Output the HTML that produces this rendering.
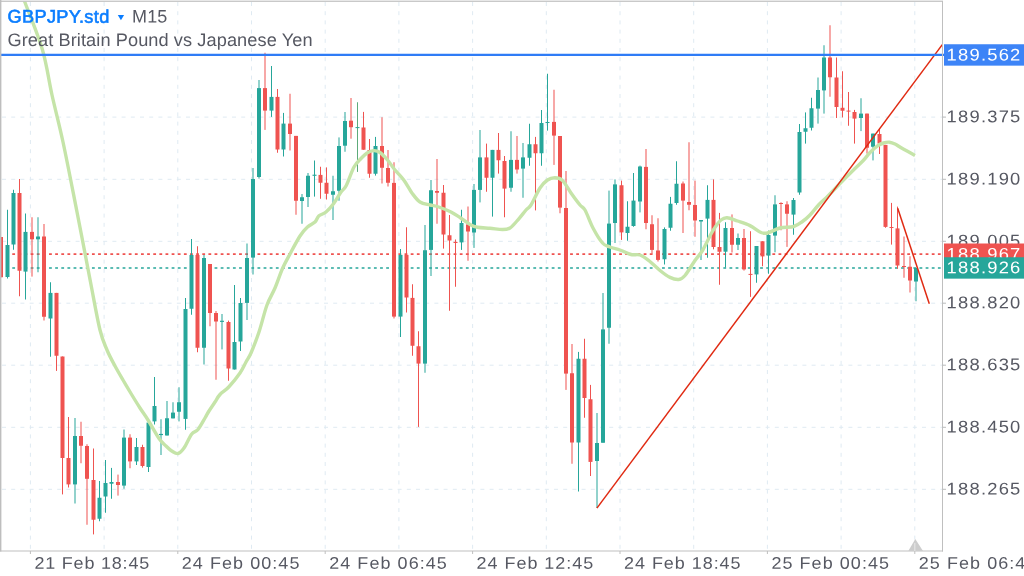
<!DOCTYPE html>
<html lang="en"><head><meta charset="utf-8"><title>GBPJPY.std M15</title>
<style>html,body{margin:0;padding:0;background:#fff;overflow:hidden}body{width:1024px;height:576px;position:relative;font-family:"Liberation Sans",sans-serif}svg{display:block;position:absolute;left:0;top:0}text{font-family:"Liberation Sans",sans-serif}</style></head><body>
<svg width="1024" height="576" viewBox="0 0 1024 576">
<rect width="1024" height="576" fill="#fff"/>
<g stroke="#dfeaf2" stroke-width="1" stroke-dasharray="4 5.2" fill="none">
<path d="M30.4 2V551"/>
<path d="M104.1 2V551"/>
<path d="M177.8 2V551"/>
<path d="M251.5 2V551"/>
<path d="M325.2 2V551"/>
<path d="M398.9 2V551"/>
<path d="M472.6 2V551"/>
<path d="M546.3 2V551"/>
<path d="M620.0 2V551"/>
<path d="M693.7 2V551"/>
<path d="M767.4 2V551"/>
<path d="M841.1 2V551"/>
<path d="M914.8 2V551"/>
<path d="M2 117.1H946"/>
<path d="M2 179.3H946"/>
<path d="M2 241.3H946"/>
<path d="M2 303.2H946"/>
<path d="M2 365.2H946"/>
<path d="M2 427.3H946"/>
<path d="M2 489.3H946"/>
</g>
<path d="M0 254.1H942" stroke="#ef5350" stroke-width="1.6" stroke-dasharray="2.8 3.33" fill="none"/>
<path d="M0 268H942" stroke="#26a69a" stroke-width="1.6" stroke-dasharray="2.8 3.33" fill="none"/>
<g>
<rect x="0.50" y="237.00" width="1" height="40.25" fill="#ef5350"/>
<rect x="-1.00" y="237.00" width="4" height="40.25" fill="#ef5350"/>
<rect x="7.00" y="209.75" width="1" height="68.75" fill="#26a69a"/>
<rect x="5.50" y="245.00" width="4" height="32.00" fill="#26a69a"/>
<rect x="13.00" y="189.75" width="1" height="60.00" fill="#26a69a"/>
<rect x="11.50" y="193.00" width="4" height="51.50" fill="#26a69a"/>
<rect x="19.00" y="179.00" width="1" height="117.25" fill="#ef5350"/>
<rect x="17.50" y="193.00" width="4" height="77.75" fill="#ef5350"/>
<rect x="25.00" y="213.50" width="1" height="86.00" fill="#26a69a"/>
<rect x="23.50" y="231.90" width="4" height="39.70" fill="#26a69a"/>
<rect x="31.50" y="217.25" width="1" height="59.35" fill="#ef5350"/>
<rect x="30.00" y="231.90" width="4" height="7.40" fill="#ef5350"/>
<rect x="37.50" y="217.25" width="1" height="55.00" fill="#26a69a"/>
<rect x="36.00" y="236.50" width="4" height="2.80" fill="#26a69a"/>
<rect x="43.50" y="224.00" width="1" height="96.50" fill="#ef5350"/>
<rect x="42.00" y="236.50" width="4" height="80.25" fill="#ef5350"/>
<rect x="50.00" y="282.25" width="1" height="74.50" fill="#26a69a"/>
<rect x="48.50" y="292.90" width="4" height="25.60" fill="#26a69a"/>
<rect x="56.00" y="292.90" width="1" height="78.00" fill="#ef5350"/>
<rect x="54.50" y="292.90" width="4" height="62.85" fill="#ef5350"/>
<rect x="62.00" y="356.50" width="1" height="137.90" fill="#ef5350"/>
<rect x="60.50" y="356.50" width="4" height="101.50" fill="#ef5350"/>
<rect x="68.00" y="417.00" width="1" height="70.50" fill="#ef5350"/>
<rect x="66.50" y="458.00" width="4" height="26.40" fill="#ef5350"/>
<rect x="74.50" y="418.00" width="1" height="85.50" fill="#26a69a"/>
<rect x="73.00" y="436.00" width="4" height="48.40" fill="#26a69a"/>
<rect x="80.50" y="421.75" width="1" height="41.50" fill="#ef5350"/>
<rect x="79.00" y="436.00" width="4" height="9.75" fill="#ef5350"/>
<rect x="86.50" y="444.25" width="1" height="80.50" fill="#ef5350"/>
<rect x="85.00" y="446.00" width="4" height="32.80" fill="#ef5350"/>
<rect x="93.00" y="448.50" width="1" height="85.90" fill="#ef5350"/>
<rect x="91.50" y="480.00" width="4" height="39.75" fill="#ef5350"/>
<rect x="99.00" y="481.00" width="1" height="40.25" fill="#26a69a"/>
<rect x="97.50" y="497.75" width="4" height="21.00" fill="#26a69a"/>
<rect x="105.00" y="460.00" width="1" height="52.75" fill="#26a69a"/>
<rect x="103.50" y="483.00" width="4" height="13.50" fill="#26a69a"/>
<rect x="111.00" y="467.90" width="1" height="30.85" fill="#26a69a"/>
<rect x="109.50" y="482.00" width="4" height="1.75" fill="#26a69a"/>
<rect x="117.50" y="474.60" width="1" height="21.00" fill="#ef5350"/>
<rect x="116.00" y="482.00" width="4" height="3.00" fill="#ef5350"/>
<rect x="123.50" y="429.50" width="1" height="59.25" fill="#26a69a"/>
<rect x="122.00" y="437.60" width="4" height="48.00" fill="#26a69a"/>
<rect x="129.50" y="434.25" width="1" height="34.00" fill="#ef5350"/>
<rect x="128.00" y="437.60" width="4" height="23.80" fill="#ef5350"/>
<rect x="136.00" y="438.00" width="1" height="27.00" fill="#26a69a"/>
<rect x="134.50" y="447.00" width="4" height="14.40" fill="#26a69a"/>
<rect x="142.00" y="444.75" width="1" height="22.85" fill="#ef5350"/>
<rect x="140.50" y="447.00" width="4" height="19.00" fill="#ef5350"/>
<rect x="148.00" y="419.25" width="1" height="52.75" fill="#26a69a"/>
<rect x="146.50" y="422.60" width="4" height="44.40" fill="#26a69a"/>
<rect x="154.00" y="377.00" width="1" height="47.50" fill="#26a69a"/>
<rect x="152.50" y="406.00" width="4" height="15.40" fill="#26a69a"/>
<rect x="160.50" y="419.25" width="1" height="35.75" fill="#26a69a"/>
<rect x="159.00" y="433.90" width="4" height="1.20" fill="#26a69a"/>
<rect x="166.50" y="401.00" width="1" height="34.50" fill="#26a69a"/>
<rect x="165.00" y="418.25" width="4" height="17.25" fill="#26a69a"/>
<rect x="172.50" y="402.25" width="1" height="16.15" fill="#26a69a"/>
<rect x="171.00" y="412.60" width="4" height="5.80" fill="#26a69a"/>
<rect x="178.50" y="387.25" width="1" height="34.15" fill="#26a69a"/>
<rect x="177.00" y="402.25" width="4" height="9.50" fill="#26a69a"/>
<rect x="185.00" y="298.00" width="1" height="131.75" fill="#26a69a"/>
<rect x="183.50" y="309.00" width="4" height="109.90" fill="#26a69a"/>
<rect x="191.00" y="239.00" width="1" height="75.75" fill="#26a69a"/>
<rect x="189.50" y="255.00" width="4" height="53.75" fill="#26a69a"/>
<rect x="197.00" y="246.25" width="1" height="106.00" fill="#ef5350"/>
<rect x="195.50" y="255.00" width="4" height="92.75" fill="#ef5350"/>
<rect x="203.50" y="255.00" width="1" height="109.50" fill="#26a69a"/>
<rect x="202.00" y="258.00" width="4" height="89.75" fill="#26a69a"/>
<rect x="209.50" y="264.00" width="1" height="62.25" fill="#ef5350"/>
<rect x="208.00" y="264.00" width="4" height="49.00" fill="#ef5350"/>
<rect x="215.50" y="311.00" width="1" height="68.75" fill="#ef5350"/>
<rect x="214.00" y="313.00" width="4" height="8.50" fill="#ef5350"/>
<rect x="221.50" y="314.00" width="1" height="35.40" fill="#26a69a"/>
<rect x="220.00" y="320.75" width="4" height="1.15" fill="#26a69a"/>
<rect x="228.00" y="320.60" width="1" height="60.15" fill="#ef5350"/>
<rect x="226.50" y="322.00" width="4" height="46.50" fill="#ef5350"/>
<rect x="234.00" y="285.00" width="1" height="84.50" fill="#26a69a"/>
<rect x="232.50" y="342.00" width="4" height="27.50" fill="#26a69a"/>
<rect x="240.00" y="298.00" width="1" height="53.00" fill="#26a69a"/>
<rect x="238.50" y="303.00" width="4" height="38.50" fill="#26a69a"/>
<rect x="246.50" y="243.50" width="1" height="76.50" fill="#26a69a"/>
<rect x="245.00" y="258.00" width="4" height="44.90" fill="#26a69a"/>
<rect x="252.50" y="168.00" width="1" height="106.50" fill="#26a69a"/>
<rect x="251.00" y="179.00" width="4" height="78.60" fill="#26a69a"/>
<rect x="258.50" y="80.00" width="1" height="98.60" fill="#26a69a"/>
<rect x="257.00" y="88.10" width="4" height="88.90" fill="#26a69a"/>
<rect x="264.50" y="52.75" width="1" height="77.15" fill="#ef5350"/>
<rect x="263.00" y="88.10" width="4" height="22.50" fill="#ef5350"/>
<rect x="271.00" y="66.00" width="1" height="50.90" fill="#26a69a"/>
<rect x="269.50" y="96.90" width="4" height="13.70" fill="#26a69a"/>
<rect x="277.00" y="89.00" width="1" height="63.75" fill="#ef5350"/>
<rect x="275.50" y="96.90" width="4" height="52.60" fill="#ef5350"/>
<rect x="283.00" y="112.90" width="1" height="43.60" fill="#26a69a"/>
<rect x="281.50" y="123.60" width="4" height="25.90" fill="#26a69a"/>
<rect x="289.50" y="93.75" width="1" height="56.75" fill="#ef5350"/>
<rect x="288.00" y="123.60" width="4" height="10.40" fill="#ef5350"/>
<rect x="295.50" y="135.90" width="1" height="78.85" fill="#ef5350"/>
<rect x="294.00" y="135.90" width="4" height="64.85" fill="#ef5350"/>
<rect x="301.50" y="194.00" width="1" height="29.75" fill="#26a69a"/>
<rect x="300.00" y="197.25" width="4" height="3.75" fill="#26a69a"/>
<rect x="307.50" y="173.00" width="1" height="34.00" fill="#26a69a"/>
<rect x="306.00" y="175.75" width="4" height="21.25" fill="#26a69a"/>
<rect x="314.00" y="160.50" width="1" height="36.10" fill="#26a69a"/>
<rect x="312.50" y="174.70" width="4" height="1.10" fill="#26a69a"/>
<rect x="320.00" y="166.75" width="1" height="32.00" fill="#ef5350"/>
<rect x="318.50" y="174.90" width="4" height="7.85" fill="#ef5350"/>
<rect x="326.00" y="167.40" width="1" height="32.10" fill="#ef5350"/>
<rect x="324.50" y="182.75" width="4" height="11.00" fill="#ef5350"/>
<rect x="332.50" y="175.75" width="1" height="44.25" fill="#26a69a"/>
<rect x="331.00" y="191.25" width="4" height="3.50" fill="#26a69a"/>
<rect x="338.50" y="137.40" width="1" height="63.35" fill="#26a69a"/>
<rect x="337.00" y="146.00" width="4" height="44.75" fill="#26a69a"/>
<rect x="344.50" y="112.00" width="1" height="39.75" fill="#26a69a"/>
<rect x="343.00" y="121.00" width="4" height="24.70" fill="#26a69a"/>
<rect x="350.50" y="98.00" width="1" height="40.70" fill="#ef5350"/>
<rect x="349.00" y="120.70" width="4" height="6.50" fill="#ef5350"/>
<rect x="357.00" y="102.25" width="1" height="69.65" fill="#5dab7a"/>
<rect x="355.50" y="127.10" width="4" height="1.00" fill="#26a69a"/>
<rect x="363.00" y="111.90" width="1" height="37.85" fill="#ef5350"/>
<rect x="361.50" y="127.50" width="4" height="22.25" fill="#ef5350"/>
<rect x="369.00" y="139.00" width="1" height="38.75" fill="#ef5350"/>
<rect x="367.50" y="150.00" width="4" height="23.75" fill="#ef5350"/>
<rect x="375.00" y="136.90" width="1" height="38.70" fill="#26a69a"/>
<rect x="373.50" y="146.00" width="4" height="27.75" fill="#26a69a"/>
<rect x="381.50" y="117.25" width="1" height="66.25" fill="#ef5350"/>
<rect x="380.00" y="146.00" width="4" height="21.75" fill="#ef5350"/>
<rect x="387.50" y="150.00" width="1" height="36.50" fill="#ef5350"/>
<rect x="386.00" y="168.00" width="4" height="14.75" fill="#ef5350"/>
<rect x="393.50" y="162.25" width="1" height="156.25" fill="#ef5350"/>
<rect x="392.00" y="182.90" width="4" height="133.70" fill="#ef5350"/>
<rect x="400.00" y="249.00" width="1" height="88.00" fill="#26a69a"/>
<rect x="398.50" y="254.90" width="4" height="61.70" fill="#26a69a"/>
<rect x="406.00" y="227.25" width="1" height="85.25" fill="#ef5350"/>
<rect x="404.50" y="254.90" width="4" height="42.60" fill="#ef5350"/>
<rect x="412.00" y="284.25" width="1" height="71.50" fill="#ef5350"/>
<rect x="410.50" y="297.90" width="4" height="47.85" fill="#ef5350"/>
<rect x="418.00" y="331.25" width="1" height="95.65" fill="#ef5350"/>
<rect x="416.50" y="346.25" width="4" height="17.35" fill="#ef5350"/>
<rect x="424.50" y="225.00" width="1" height="147.75" fill="#26a69a"/>
<rect x="423.00" y="250.25" width="4" height="113.35" fill="#26a69a"/>
<rect x="430.50" y="180.00" width="1" height="96.00" fill="#26a69a"/>
<rect x="429.00" y="190.25" width="4" height="59.65" fill="#26a69a"/>
<rect x="436.50" y="159.00" width="1" height="64.75" fill="#ef5350"/>
<rect x="435.00" y="191.00" width="4" height="1.75" fill="#ef5350"/>
<rect x="443.00" y="185.00" width="1" height="63.60" fill="#ef5350"/>
<rect x="441.50" y="192.75" width="4" height="41.75" fill="#ef5350"/>
<rect x="449.00" y="215.00" width="1" height="95.75" fill="#ef5350"/>
<rect x="447.50" y="235.25" width="4" height="5.25" fill="#ef5350"/>
<rect x="455.00" y="239.50" width="1" height="47.25" fill="#ef5350"/>
<rect x="453.50" y="241.90" width="4" height="1.10" fill="#ef5350"/>
<rect x="461.00" y="209.75" width="1" height="40.15" fill="#26a69a"/>
<rect x="459.50" y="223.00" width="4" height="19.40" fill="#26a69a"/>
<rect x="467.50" y="206.50" width="1" height="54.25" fill="#ef5350"/>
<rect x="466.00" y="224.40" width="4" height="7.10" fill="#ef5350"/>
<rect x="473.50" y="184.00" width="1" height="63.90" fill="#26a69a"/>
<rect x="472.00" y="189.90" width="4" height="42.60" fill="#26a69a"/>
<rect x="479.50" y="130.00" width="1" height="72.40" fill="#26a69a"/>
<rect x="478.00" y="157.40" width="4" height="32.50" fill="#26a69a"/>
<rect x="486.00" y="143.60" width="1" height="48.15" fill="#ef5350"/>
<rect x="484.50" y="157.40" width="4" height="20.35" fill="#ef5350"/>
<rect x="492.00" y="149.90" width="1" height="66.70" fill="#26a69a"/>
<rect x="490.50" y="149.90" width="4" height="27.85" fill="#26a69a"/>
<rect x="498.00" y="133.00" width="1" height="40.60" fill="#ef5350"/>
<rect x="496.50" y="149.90" width="4" height="10.35" fill="#ef5350"/>
<rect x="504.00" y="156.00" width="1" height="61.25" fill="#ef5350"/>
<rect x="502.50" y="161.00" width="4" height="27.60" fill="#ef5350"/>
<rect x="510.50" y="131.25" width="1" height="60.50" fill="#26a69a"/>
<rect x="509.00" y="159.90" width="4" height="27.85" fill="#26a69a"/>
<rect x="516.50" y="136.00" width="1" height="37.60" fill="#ef5350"/>
<rect x="515.00" y="159.90" width="4" height="9.60" fill="#ef5350"/>
<rect x="522.50" y="143.00" width="1" height="54.75" fill="#26a69a"/>
<rect x="521.00" y="157.40" width="4" height="11.20" fill="#26a69a"/>
<rect x="529.00" y="123.75" width="1" height="42.00" fill="#26a69a"/>
<rect x="527.50" y="144.25" width="4" height="13.50" fill="#26a69a"/>
<rect x="535.00" y="136.90" width="1" height="73.50" fill="#ef5350"/>
<rect x="533.50" y="144.25" width="4" height="9.00" fill="#ef5350"/>
<rect x="541.00" y="110.00" width="1" height="55.75" fill="#26a69a"/>
<rect x="539.50" y="123.00" width="4" height="30.25" fill="#26a69a"/>
<rect x="547.00" y="73.75" width="1" height="56.85" fill="#26a69a"/>
<rect x="545.50" y="122.00" width="4" height="1.00" fill="#26a69a"/>
<rect x="553.50" y="89.75" width="1" height="75.15" fill="#ef5350"/>
<rect x="552.00" y="121.90" width="4" height="13.70" fill="#ef5350"/>
<rect x="559.50" y="136.00" width="1" height="77.25" fill="#ef5350"/>
<rect x="558.00" y="136.00" width="4" height="71.60" fill="#ef5350"/>
<rect x="565.50" y="171.00" width="1" height="218.90" fill="#ef5350"/>
<rect x="564.00" y="208.00" width="4" height="165.60" fill="#ef5350"/>
<rect x="571.50" y="344.00" width="1" height="119.75" fill="#ef5350"/>
<rect x="570.00" y="373.25" width="4" height="69.25" fill="#ef5350"/>
<rect x="578.00" y="351.90" width="1" height="139.60" fill="#26a69a"/>
<rect x="576.50" y="358.75" width="4" height="83.75" fill="#26a69a"/>
<rect x="584.00" y="338.75" width="1" height="79.00" fill="#ef5350"/>
<rect x="582.50" y="358.75" width="4" height="39.25" fill="#ef5350"/>
<rect x="590.00" y="384.90" width="1" height="91.10" fill="#ef5350"/>
<rect x="588.50" y="399.25" width="4" height="62.65" fill="#ef5350"/>
<rect x="596.50" y="413.00" width="1" height="95.00" fill="#26a69a"/>
<rect x="595.00" y="443.00" width="4" height="18.00" fill="#26a69a"/>
<rect x="602.50" y="293.00" width="1" height="149.75" fill="#26a69a"/>
<rect x="601.00" y="329.40" width="4" height="113.35" fill="#26a69a"/>
<rect x="608.50" y="190.60" width="1" height="153.15" fill="#26a69a"/>
<rect x="607.00" y="223.60" width="4" height="104.15" fill="#26a69a"/>
<rect x="614.50" y="179.40" width="1" height="63.60" fill="#26a69a"/>
<rect x="613.00" y="184.40" width="4" height="38.60" fill="#26a69a"/>
<rect x="621.00" y="180.60" width="1" height="59.30" fill="#ef5350"/>
<rect x="619.50" y="185.25" width="4" height="47.15" fill="#ef5350"/>
<rect x="627.00" y="201.25" width="1" height="39.50" fill="#26a69a"/>
<rect x="625.50" y="226.75" width="4" height="6.25" fill="#26a69a"/>
<rect x="633.00" y="173.00" width="1" height="53.75" fill="#26a69a"/>
<rect x="631.50" y="200.60" width="4" height="25.40" fill="#26a69a"/>
<rect x="639.50" y="165.60" width="1" height="46.80" fill="#26a69a"/>
<rect x="638.00" y="166.50" width="4" height="35.00" fill="#26a69a"/>
<rect x="645.50" y="149.00" width="1" height="80.25" fill="#ef5350"/>
<rect x="644.00" y="166.90" width="4" height="56.10" fill="#ef5350"/>
<rect x="651.50" y="215.25" width="1" height="38.35" fill="#ef5350"/>
<rect x="650.00" y="224.25" width="4" height="25.65" fill="#ef5350"/>
<rect x="657.50" y="218.25" width="1" height="43.25" fill="#ef5350"/>
<rect x="656.00" y="250.50" width="4" height="9.40" fill="#ef5350"/>
<rect x="664.00" y="227.40" width="1" height="37.10" fill="#26a69a"/>
<rect x="662.50" y="229.00" width="4" height="30.25" fill="#26a69a"/>
<rect x="670.00" y="196.90" width="1" height="33.85" fill="#26a69a"/>
<rect x="668.50" y="203.75" width="4" height="24.00" fill="#26a69a"/>
<rect x="676.00" y="161.25" width="1" height="43.50" fill="#26a69a"/>
<rect x="674.50" y="183.75" width="4" height="19.25" fill="#26a69a"/>
<rect x="682.50" y="181.50" width="1" height="51.50" fill="#ef5350"/>
<rect x="681.00" y="183.50" width="4" height="17.10" fill="#ef5350"/>
<rect x="688.50" y="142.25" width="1" height="68.00" fill="#ef5350"/>
<rect x="687.00" y="202.00" width="4" height="2.75" fill="#ef5350"/>
<rect x="694.50" y="180.60" width="1" height="56.15" fill="#ef5350"/>
<rect x="693.00" y="205.00" width="4" height="15.50" fill="#ef5350"/>
<rect x="700.50" y="220.00" width="1" height="40.00" fill="#26a69a"/>
<rect x="699.00" y="220.00" width="4" height="1.50" fill="#26a69a"/>
<rect x="707.00" y="185.25" width="1" height="72.50" fill="#26a69a"/>
<rect x="705.50" y="199.90" width="4" height="18.70" fill="#26a69a"/>
<rect x="713.00" y="179.40" width="1" height="69.90" fill="#ef5350"/>
<rect x="711.50" y="199.90" width="4" height="47.10" fill="#ef5350"/>
<rect x="719.00" y="212.90" width="1" height="71.85" fill="#ef5350"/>
<rect x="717.50" y="247.00" width="4" height="4.75" fill="#ef5350"/>
<rect x="725.00" y="222.25" width="1" height="45.25" fill="#26a69a"/>
<rect x="723.50" y="228.00" width="4" height="23.70" fill="#26a69a"/>
<rect x="731.50" y="214.40" width="1" height="38.10" fill="#ef5350"/>
<rect x="730.00" y="228.00" width="4" height="16.75" fill="#ef5350"/>
<rect x="737.50" y="233.50" width="1" height="16.50" fill="#26a69a"/>
<rect x="736.00" y="238.00" width="4" height="6.75" fill="#26a69a"/>
<rect x="743.50" y="229.00" width="1" height="41.60" fill="#ef5350"/>
<rect x="742.00" y="238.00" width="4" height="31.40" fill="#ef5350"/>
<rect x="750.00" y="231.25" width="1" height="65.65" fill="#ef5350"/>
<rect x="748.50" y="273.90" width="4" height="1.00" fill="#ef5350"/>
<rect x="756.00" y="246.00" width="1" height="36.75" fill="#26a69a"/>
<rect x="754.50" y="246.00" width="4" height="28.40" fill="#26a69a"/>
<rect x="762.00" y="241.25" width="1" height="25.00" fill="#ef5350"/>
<rect x="760.50" y="241.25" width="4" height="15.15" fill="#ef5350"/>
<rect x="768.00" y="230.60" width="1" height="43.15" fill="#26a69a"/>
<rect x="766.50" y="235.00" width="4" height="20.60" fill="#26a69a"/>
<rect x="774.50" y="195.25" width="1" height="57.00" fill="#26a69a"/>
<rect x="773.00" y="204.40" width="4" height="31.20" fill="#26a69a"/>
<rect x="780.50" y="202.25" width="1" height="28.00" fill="#ef5350"/>
<rect x="779.00" y="203.00" width="4" height="1.00" fill="#ef5350"/>
<rect x="786.50" y="201.25" width="1" height="45.65" fill="#ef5350"/>
<rect x="785.00" y="204.40" width="4" height="9.35" fill="#ef5350"/>
<rect x="793.00" y="198.00" width="1" height="36.75" fill="#26a69a"/>
<rect x="791.50" y="200.00" width="4" height="14.60" fill="#26a69a"/>
<rect x="799.00" y="124.00" width="1" height="70.75" fill="#26a69a"/>
<rect x="797.50" y="132.00" width="4" height="60.50" fill="#26a69a"/>
<rect x="805.00" y="112.40" width="1" height="31.20" fill="#26a69a"/>
<rect x="803.50" y="128.25" width="4" height="3.50" fill="#26a69a"/>
<rect x="811.00" y="97.75" width="1" height="32.75" fill="#26a69a"/>
<rect x="809.50" y="108.25" width="4" height="19.50" fill="#26a69a"/>
<rect x="817.50" y="77.50" width="1" height="46.10" fill="#26a69a"/>
<rect x="816.00" y="90.00" width="4" height="18.60" fill="#26a69a"/>
<rect x="823.50" y="45.25" width="1" height="68.35" fill="#26a69a"/>
<rect x="822.00" y="57.50" width="4" height="32.90" fill="#26a69a"/>
<rect x="829.50" y="25.25" width="1" height="71.50" fill="#ef5350"/>
<rect x="828.00" y="57.50" width="4" height="19.75" fill="#ef5350"/>
<rect x="836.00" y="57.50" width="1" height="60.50" fill="#ef5350"/>
<rect x="834.50" y="77.50" width="4" height="29.50" fill="#ef5350"/>
<rect x="842.00" y="71.25" width="1" height="46.15" fill="#ef5350"/>
<rect x="840.50" y="107.75" width="4" height="3.00" fill="#ef5350"/>
<rect x="848.00" y="92.00" width="1" height="33.75" fill="#ef5350"/>
<rect x="846.50" y="110.60" width="4" height="1.00" fill="#ef5350"/>
<rect x="854.00" y="109.90" width="1" height="33.70" fill="#ef5350"/>
<rect x="852.50" y="112.00" width="4" height="6.60" fill="#ef5350"/>
<rect x="860.50" y="98.25" width="1" height="32.85" fill="#26a69a"/>
<rect x="859.00" y="113.60" width="4" height="4.40" fill="#26a69a"/>
<rect x="866.50" y="113.60" width="1" height="40.00" fill="#ef5350"/>
<rect x="865.00" y="113.60" width="4" height="34.15" fill="#ef5350"/>
<rect x="872.50" y="133.60" width="1" height="26.80" fill="#26a69a"/>
<rect x="871.00" y="133.60" width="4" height="13.15" fill="#26a69a"/>
<rect x="879.00" y="128.00" width="1" height="26.00" fill="#ef5350"/>
<rect x="877.50" y="134.00" width="4" height="9.60" fill="#ef5350"/>
<rect x="885.00" y="144.90" width="1" height="82.85" fill="#ef5350"/>
<rect x="883.50" y="144.90" width="4" height="82.00" fill="#ef5350"/>
<rect x="891.00" y="202.90" width="1" height="41.70" fill="#ef5350"/>
<rect x="889.50" y="227.00" width="4" height="1.00" fill="#ef5350"/>
<rect x="897.00" y="206.60" width="1" height="62.15" fill="#ef5350"/>
<rect x="895.50" y="228.40" width="4" height="37.10" fill="#ef5350"/>
<rect x="903.50" y="236.50" width="1" height="41.25" fill="#ef5350"/>
<rect x="902.00" y="266.00" width="4" height="1.00" fill="#ef5350"/>
<rect x="909.50" y="256.25" width="1" height="36.25" fill="#ef5350"/>
<rect x="908.00" y="266.75" width="4" height="13.75" fill="#ef5350"/>
<rect x="915.50" y="268.00" width="1" height="33.25" fill="#26a69a"/>
<rect x="914.00" y="268.00" width="4" height="13.50" fill="#26a69a"/>
</g>
<path d="M24 0C24.2 0.4 21.9 -5.8 25 2.5C28.1 10.8 38.0 34.6 42.5 50C47.0 65.4 48.6 79.7 52 95C55.4 110.3 58.8 122.5 63 142C67.2 161.5 72.4 188.7 77 212C81.6 235.3 86.7 262.3 90.5 282C94.3 301.7 97.2 318.7 100 330C102.8 341.3 104.5 344.0 107 350C109.5 356.0 112.3 361.0 115 366C117.7 371.0 120.3 375.4 123 380C125.7 384.6 128.2 388.8 131 393.5C133.8 398.2 137.2 403.6 140 408C142.8 412.4 144.8 414.9 148 420C151.2 425.1 156.0 434.2 159 438.5C162.0 442.8 163.9 443.9 166 446C168.1 448.1 169.8 449.8 171.75 451C173.8 452.2 176.0 454.0 178 453.5C180.0 453.0 181.7 451.2 184 448C186.3 444.8 189.4 437.1 191.75 434C194.1 430.9 195.8 432.2 198 429.5C200.2 426.8 203.2 421.1 205 418C206.8 414.9 207.3 413.7 209 411C210.7 408.3 213.2 404.8 215 402C216.8 399.2 217.7 397.0 220 394.5C222.3 392.0 225.4 390.6 228.75 387C232.1 383.4 237.1 377.2 240 373C242.9 368.8 244.2 365.3 246 362C247.8 358.7 248.8 358.0 251 353C253.2 348.0 256.3 340.0 259 332C261.7 324.0 264.3 312.3 267 305C269.7 297.7 272.4 294.1 275 288C277.6 281.9 280.0 274.2 282.5 268.5C285.0 262.8 287.1 259.4 290 254C292.9 248.6 297.1 240.5 300 236C302.9 231.5 305.0 229.3 307.5 227C310.0 224.7 313.1 223.8 315 222C316.9 220.2 316.9 217.7 318.75 216C320.6 214.3 323.5 214.1 326 212C328.5 209.9 331.2 206.8 333.75 203.5C336.2 200.2 339.0 194.9 341 192C343.0 189.1 343.8 190.2 346 186C348.2 181.8 351.5 171.6 354 167C356.5 162.4 358.8 160.8 361 158.5C363.2 156.2 364.9 154.3 367 153C369.1 151.7 371.6 150.7 373.75 150.6C375.9 150.5 377.7 150.9 380 152.5C382.3 154.1 385.0 157.1 387.5 160C390.0 162.9 392.3 166.7 395 170C397.7 173.3 400.8 176.0 403.75 180C406.7 184.0 409.8 190.1 412.5 193.75C415.2 197.4 417.1 200.1 420 202C422.9 203.9 426.9 204.2 430 205C433.1 205.8 435.2 205.8 438.75 207C442.2 208.2 447.5 210.2 451 212C454.5 213.8 456.8 215.4 460 217.5C463.2 219.6 467.1 222.8 470 224.4C472.9 226.0 474.2 226.6 477.5 227.25C480.8 227.9 485.8 227.9 490 228.25C494.2 228.6 499.2 229.5 502.5 229.5C505.8 229.5 507.5 229.5 510 228C512.5 226.5 514.8 223.4 517.5 220.4C520.2 217.4 523.8 212.6 526 210C528.2 207.4 528.7 208.7 531 205C533.3 201.3 537.2 192.2 540 188C542.8 183.8 545.0 181.7 547.5 180C550.0 178.3 552.5 177.7 555 177.75C557.5 177.8 559.8 178.0 562.5 180.5C565.2 183.0 568.1 188.9 571 193C573.9 197.1 577.7 202.2 580 205C582.3 207.8 582.8 206.2 585 210C587.2 213.8 590.1 222.5 593 228C595.9 233.5 599.7 239.8 602.5 243C605.3 246.2 607.1 245.8 610 247C612.9 248.2 616.5 248.8 620 250C623.5 251.2 627.7 253.7 631 254.5C634.3 255.3 637.0 254.0 640 255C643.0 256.0 645.4 257.9 648.75 260.5C652.1 263.1 656.5 267.7 660 270.5C663.5 273.3 666.9 275.9 670 277.4C673.1 278.9 676.2 279.8 678.75 279.5C681.2 279.2 682.3 278.7 685 275.5C687.7 272.3 692.1 264.7 695 260.5C697.9 256.3 699.8 254.9 702.5 250.5C705.2 246.1 708.8 238.1 711 234C713.2 229.9 714.3 228.3 716 226C717.7 223.7 719.2 221.4 721 220C722.8 218.6 724.2 217.6 727 217.75C729.8 217.9 733.7 219.7 737.5 221C741.3 222.3 746.1 223.7 750 225.6C753.9 227.5 758.1 231.3 761 232.5C763.9 233.7 764.3 233.8 767.5 233C770.7 232.2 775.6 229.1 780 228C784.4 226.9 790.0 227.6 793.75 226.5C797.5 225.4 799.8 223.4 802.5 221.5C805.2 219.6 807.3 217.8 810 215C812.7 212.2 815.8 207.9 818.75 204.75C821.8 201.6 824.5 199.5 828 196C831.5 192.5 835.5 188.1 840 183.5C844.5 178.9 851.0 172.4 855 168.5C859.0 164.6 861.2 162.7 863.75 160C866.2 157.3 867.7 154.9 870 152.5C872.3 150.1 875.2 147.4 877.5 145.8C879.8 144.2 881.5 143.6 883.5 143C885.5 142.4 887.5 142.0 889.4 142.2C891.3 142.4 892.9 143.0 895 144C897.1 145.0 898.7 146.4 902 148.3C905.3 150.2 912.8 154.3 915 155.5" fill="none" stroke="#c5e4a8" stroke-width="3.4" stroke-linejoin="round" stroke-linecap="butt"/>
<path d="M596.9 508.1L942.3 44.6" stroke="#e02a12" stroke-width="1.5" fill="none"/>
<path d="M897.7 208.3L929.3 303.8" stroke="#e02a12" stroke-width="1.5" fill="none"/>
<path d="M0 54.85H944" stroke="#2f7cf6" stroke-width="2.2" fill="none"/>
<rect x="0" y="0" width="943" height="1" fill="#ececec"/>
<rect x="0" y="0.9" width="943" height="1" fill="#c4c4c4"/>
<rect x="0" y="0" width="1.4" height="551.5" fill="#bebebe"/>
<rect x="942" y="1" width="1" height="550.5" fill="#bfbfbf"/>
<rect x="0" y="550.5" width="943" height="1" fill="#bfbfbf"/>
<path d="M30.4 551V554" stroke="#bfbfbf" stroke-width="1"/>
<path d="M177.8 551V554" stroke="#bfbfbf" stroke-width="1"/>
<path d="M325.2 551V554" stroke="#bfbfbf" stroke-width="1"/>
<path d="M472.6 551V554" stroke="#bfbfbf" stroke-width="1"/>
<path d="M620.0 551V554" stroke="#bfbfbf" stroke-width="1"/>
<path d="M767.4 551V554" stroke="#bfbfbf" stroke-width="1"/>
<path d="M914.8 551V554" stroke="#bfbfbf" stroke-width="1"/>
<path d="M915.3 539L908.3 551H923Z" fill="#cdcdcd"/><path d="M914.8 543V551" stroke="#e9e9e9" stroke-width="1"/>
<path d="M942.5 117.1H946" stroke="#bdbdbd" stroke-width="1"/>
<path d="M942.5 179.3H946" stroke="#bdbdbd" stroke-width="1"/>
<path d="M942.5 241.3H946" stroke="#bdbdbd" stroke-width="1"/>
<path d="M942.5 303.2H946" stroke="#bdbdbd" stroke-width="1"/>
<path d="M942.5 365.2H946" stroke="#bdbdbd" stroke-width="1"/>
<path d="M942.5 427.3H946" stroke="#bdbdbd" stroke-width="1"/>
<path d="M942.5 489.3H946" stroke="#bdbdbd" stroke-width="1"/>
<text transform="translate(946.6,122.2) scale(1.08,1) rotate(0.03)" font-size="17.0" fill="#565862" textLength="68.24" lengthAdjust="spacing">189.375</text>
<text transform="translate(946.6,184.4) scale(1.08,1) rotate(0.03)" font-size="17.0" fill="#565862" textLength="68.24" lengthAdjust="spacing">189.190</text>
<text transform="translate(946.6,246.4) scale(1.08,1) rotate(0.03)" font-size="17.0" fill="#565862" textLength="68.24" lengthAdjust="spacing">189.005</text>
<text transform="translate(946.6,308.3) scale(1.08,1) rotate(0.03)" font-size="17.0" fill="#565862" textLength="68.24" lengthAdjust="spacing">188.820</text>
<text transform="translate(946.6,370.3) scale(1.08,1) rotate(0.03)" font-size="17.0" fill="#565862" textLength="68.24" lengthAdjust="spacing">188.635</text>
<text transform="translate(946.6,432.4) scale(1.08,1) rotate(0.03)" font-size="17.0" fill="#565862" textLength="68.24" lengthAdjust="spacing">188.450</text>
<text transform="translate(946.6,494.4) scale(1.08,1) rotate(0.03)" font-size="17.0" fill="#565862" textLength="68.24" lengthAdjust="spacing">188.265</text>
<rect x="944" y="243.5" width="80" height="21.4" fill="#ef5350"/>
<text transform="translate(946.6,259.7) scale(1.08,1) rotate(0.03)" font-size="17.0" fill="#fff" textLength="68.24" lengthAdjust="spacing">188.967</text>
<rect x="944" y="257.25" width="80" height="21.4" fill="#26a69a"/>
<text transform="translate(946.6,273.2) scale(1.08,1) rotate(0.03)" font-size="17.0" fill="#fff" textLength="68.24" lengthAdjust="spacing">188.926</text>
<rect x="944" y="44.25" width="80" height="21.4" fill="#3d84f7"/>
<text transform="translate(946.6,60.5) scale(1.08,1) rotate(0.03)" font-size="17.0" fill="#fff" textLength="68.24" lengthAdjust="spacing">189.562</text>
<text transform="translate(34.4,568.8) scale(1.07,1) rotate(0.03)" font-size="16.8" fill="#565862" textLength="107.29" lengthAdjust="spacing">21 Feb 18:45</text>
<text transform="translate(181.8,568.8) scale(1.07,1) rotate(0.03)" font-size="16.8" fill="#565862" textLength="109.91" lengthAdjust="spacing">24 Feb 00:45</text>
<text transform="translate(329.2,568.8) scale(1.07,1) rotate(0.03)" font-size="16.8" fill="#565862" textLength="109.91" lengthAdjust="spacing">24 Feb 06:45</text>
<text transform="translate(476.6,568.8) scale(1.07,1) rotate(0.03)" font-size="16.8" fill="#565862" textLength="108.97" lengthAdjust="spacing">24 Feb 12:45</text>
<text transform="translate(624.0,568.8) scale(1.07,1) rotate(0.03)" font-size="16.8" fill="#565862" textLength="108.97" lengthAdjust="spacing">24 Feb 18:45</text>
<text transform="translate(771.4,568.8) scale(1.07,1) rotate(0.03)" font-size="16.8" fill="#565862" textLength="109.91" lengthAdjust="spacing">25 Feb 00:45</text>
<text transform="translate(918.8,568.8) scale(1.07,1) rotate(0.03)" font-size="16.8" fill="#565862" textLength="109.91" lengthAdjust="spacing">25 Feb 06:45</text>
<text transform="translate(7.5,22.6) scale(1.0,1) rotate(0.03)" font-size="18.2" fill="#0a7dff" textLength="101.80" lengthAdjust="spacing" stroke="#0a7dff" stroke-width="0.6">GBPJPY.std</text>
<path d="M117.8 15H124.1L120.95 20.3Z" fill="#0a7dff"/>
<text transform="translate(132.1,22.6) scale(1.0,1) rotate(0.03)" font-size="18" fill="#565862" textLength="35.20" lengthAdjust="spacing">M15</text>
<text transform="translate(7.5,45.9) scale(1.01,1) rotate(0.03)" font-size="18" fill="#565862" textLength="301.98" lengthAdjust="spacing">Great Britain Pound vs Japanese Yen</text>
</svg></body></html>
